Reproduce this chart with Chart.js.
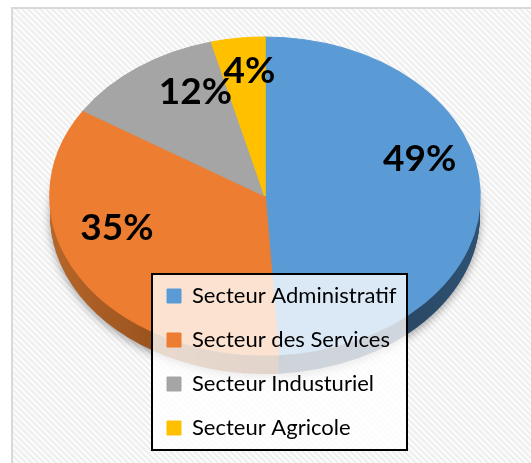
<!DOCTYPE html>
<html>
<head>
<meta charset="utf-8">
<script src="https://cdn.jsdelivr.net/npm/chart.js@4.4.0/dist/chart.umd.min.js"></script>
<style>
  html, body { margin: 0; padding: 0; background: #fff; }
  #wrap { width: 531px; height: 463px; position: relative; }
</style>
</head>
<body>
<div id="wrap"><canvas id="chartSecteurs"></canvas></div>
<script>
const secteurs = ['Secteur Administratif', 'Secteur des Services', 'Secteur Industuriel', 'Secteur Agricole'];
const parts = [49, 35, 12, 4];
const couleurs = ['#5b9bd5', '#ed7d31', '#a5a5a5', '#ffc000'];
// côté du camembert 3D : gauche, milieu, droite
const couleursCote = [
    ['#1f3852', '#1f3852', '#2f5171'],
    ['#b66629', '#7d3f14', '#7d3f14'],
    ['#6e6e6e', '#5a5a5a', '#5a5a5a'],
    ['#a87f00', '#8a6800', '#8a6800']
];

// ellipse du dessus (perspective)
const CX = 265, CY = 196, RX = 215, RY = 159, DEPTH = 19;
const APEX_Y = 163;
const labelDist = [0.72, 0.8, 0.55, 0.58];
const BOX = { left: 152, top: 274, right: 407, bottom: 450 };

function versEllipse(ctx, arc) {
    const r = arc.outerRadius;
    ctx.translate(CX, CY);
    ctx.scale(RX / r, RY / r);
    ctx.translate(-arc.x, -arc.y);
}

function motifRayures(ctx) {
    const tile = document.createElement('canvas');
    tile.width = tile.height = 6;
    const t = tile.getContext('2d');
    t.fillStyle = '#fcfcfc';
    t.fillRect(0, 0, 6, 6);
    t.fillStyle = '#efefef';
    for (let x = 0; x < 6; x++) {
        for (let y = 0; y < 6; y++) {
            if ((((x - y) % 6) + 6) % 6 < 3) t.fillRect(x, y, 1, 1);
        }
    }
    return ctx.createPattern(tile, 'repeat');
}

const pie3d = {
    id: 'pie3d',
    afterInit(chart) {
        const leg = chart.legend;
        leg._layers = () => [{ z: 10, draw: (area) => leg.draw(area) }];
    },
    afterLayout(chart) {
        const leg = chart.legend;
        const w = leg.width;
        leg.left = 145; leg.right = 145 + w;
        leg.top = 263; leg.bottom = 463; leg.height = 200;
    },
    beforeDraw(chart) {
        const ctx = chart.ctx;
        ctx.save();
        ctx.fillStyle = '#fff';
        ctx.fillRect(0, 0, chart.width, chart.height);
        ctx.fillStyle = motifRayures(ctx);
        ctx.fillRect(13, 9, chart.width, chart.height);
        ctx.strokeStyle = '#d9d9d9';
        ctx.lineWidth = 2;
        ctx.strokeRect(12, 8, chart.width + 10, chart.height + 10);
        ctx.restore();
    },
    beforeDatasetsDraw(chart) {
        const ctx = chart.ctx;
        const arcs = chart.getDatasetMeta(0).data;
        const a0 = arcs[0];
        const grads = couleursCote.map(c => {
            const g = ctx.createLinearGradient(a0.x - a0.outerRadius, 0, a0.x + a0.outerRadius, 0);
            g.addColorStop(0, c[0]);
            g.addColorStop(0.5, c[1]);
            g.addColorStop(1, c[2]);
            return g;
        });
        for (let d = DEPTH; d >= 1; d--) {
            ctx.save();
            if (d === DEPTH) {
                ctx.shadowColor = 'rgba(0,0,0,0.35)';
                ctx.shadowBlur = 9;
                ctx.shadowOffsetY = 3;
            }
            ctx.translate(0, d);
            versEllipse(ctx, a0);
            arcs.forEach((arc, i) => {
                const saved = arc.options;
                arc.options = Object.assign({}, saved, { backgroundColor: grads[i], borderWidth: 0 });
                arc.draw(ctx);
                arc.options = saved;
            });
            ctx.restore();
        }
        ctx.save();
        versEllipse(ctx, a0);
    },
    afterDatasetsDraw(chart) {
        const ctx = chart.ctx;
        ctx.restore();
        const arcs = chart.getDatasetMeta(0).data;
        const total = parts.reduce((a, b) => a + b, 0);

        ctx.save();
        ctx.font = 'bold 37px Lato';
        ctx.fillStyle = '#000';
        ctx.textAlign = 'center';
        ctx.textBaseline = 'middle';
        arcs.forEach((arc, i) => {
            const mid = (arc.startAngle + arc.endAngle) / 2;
            const x = CX + RX * labelDist[i] * Math.cos(mid);
            const y = APEX_Y + RY * labelDist[i] * Math.sin(mid);
            ctx.fillText(Math.round(parts[i] / total * 100) + '%', x, y);
        });

        ctx.fillStyle = 'rgba(255,255,255,0.78)';
        ctx.fillRect(BOX.left, BOX.top, BOX.right - BOX.left, BOX.bottom - BOX.top);
        ctx.strokeStyle = '#000';
        ctx.lineWidth = 2;
        ctx.strokeRect(BOX.left, BOX.top, BOX.right - BOX.left, BOX.bottom - BOX.top);
        ctx.restore();
    }
};

new Chart(document.getElementById('chartSecteurs'), {
    type: 'pie',
    data: {
        labels: secteurs,
        datasets: [{
            data: parts,
            backgroundColor: couleurs,
            borderColor: couleurs,
            borderWidth: 1,
            clip: false
        }]
    },
    options: {
        responsive: true,
        maintainAspectRatio: false,
        animation: false,
        layout: { padding: 0 },
        plugins: {
            tooltip: { enabled: false },
            legend: {
                position: 'right',
                align: 'start',
                labels: {
                    boxWidth: 14,
                    boxHeight: 14,
                    padding: 22,
                    color: '#000',
                    font: { family: 'Lato', size: 22 }
                }
            }
        }
    },
    plugins: [pie3d]
});
</script>
</body>
</html>
